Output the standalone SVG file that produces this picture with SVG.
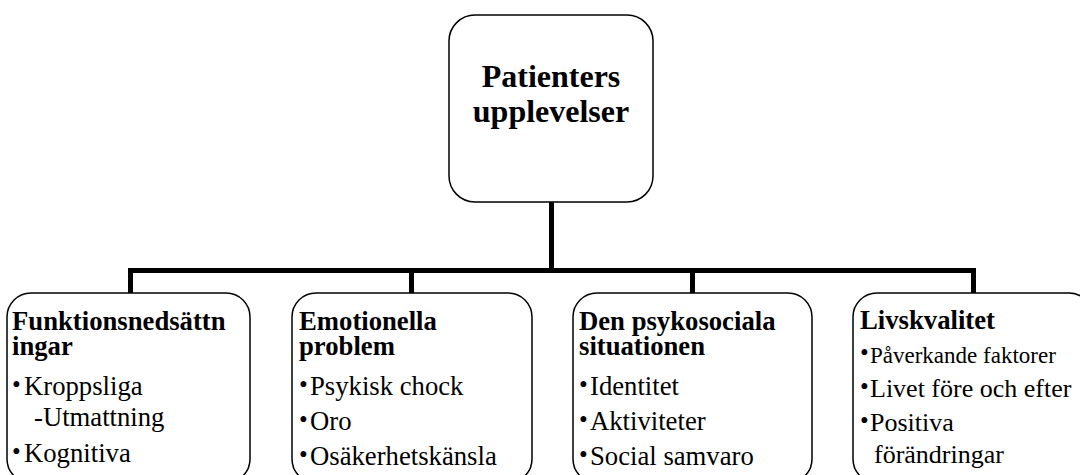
<svg xmlns="http://www.w3.org/2000/svg" width="1080" height="475" viewBox="0 0 1080 475" font-family="'Liberation Serif', 'Times New Roman', serif">
<style>
.box{fill:#fff;stroke:#000;stroke-width:1.5}
.conn{fill:none;stroke:#000;stroke-width:5;stroke-linejoin:miter}
.t{font-family:'Liberation Serif','Times New Roman',serif;fill:#000}
.title{font-size:32px;font-weight:bold;text-anchor:middle}
.head{font-size:26.7px;font-weight:bold}
.body{font-size:26.7px}
.small{font-size:23px}
.mid{font-size:26px}
.bul{font-size:25px}
</style>
<rect width="1080" height="475" fill="#fff"/>
<g id="connectors">
<path class="conn" d="M551.5,202 V270.5"/>
<path class="conn" d="M130.5,293 V270.5 H973.5 V293"/>
<path class="conn" d="M411.5,270.5 V293"/>
<path class="conn" d="M692.5,270.5 V293"/>
</g>
<g id="root">
<rect class="box" x="449" y="15" width="204" height="187" rx="26"/>
<text class="t title" x="551" y="86.5">Patienters</text>
<text class="t title" x="551" y="122">upplevelser</text>
</g>
<g id="n1">
<rect class="box" x="7" y="293" width="243" height="190" rx="24"/>
<text class="t head" x="12" y="330">Funktionsnedsättn</text>
<text class="t head" x="12" y="355">ingar</text>
<text class="t body" x="12" y="395"><tspan class="bul" dy="-2">•</tspan><tspan x="24" dy="2">Kroppsliga</tspan></text>
<text class="t body" x="34" y="426">-Utmattning</text>
<text class="t body" x="12" y="462"><tspan class="bul" dy="-2">•</tspan><tspan x="24" dy="2">Kognitiva</tspan></text>
</g>
<g id="n2">
<rect class="box" x="292" y="293" width="240" height="190" rx="24"/>
<text class="t head" x="299" y="330">Emotionella</text>
<text class="t head" x="299" y="355">problem</text>
<text class="t body" x="299" y="395"><tspan class="bul" dy="-2">•</tspan><tspan x="310" dy="2">Psykisk chock</tspan></text>
<text class="t body" x="299" y="430"><tspan class="bul" dy="-2">•</tspan><tspan x="310" dy="2">Oro</tspan></text>
<text class="t body" x="299" y="465"><tspan class="bul" dy="-2">•</tspan><tspan x="310" dy="2">Osäkerhetskänsla</tspan></text>
</g>
<g id="n3">
<rect class="box" x="573" y="293" width="239" height="190" rx="24"/>
<text class="t head" x="579" y="330">Den psykosociala</text>
<text class="t head" x="579" y="355">situationen</text>
<text class="t body" x="579" y="395"><tspan class="bul" dy="-2">•</tspan><tspan x="590" dy="2">Identitet</tspan></text>
<text class="t body" x="579" y="430"><tspan class="bul" dy="-2">•</tspan><tspan x="590" dy="2">Aktiviteter</tspan></text>
<text class="t body" x="579" y="465"><tspan class="bul" dy="-2">•</tspan><tspan x="590" dy="2">Social samvaro</tspan></text>
</g>
<g id="n4">
<rect class="box" x="853" y="293" width="240" height="190" rx="24"/>
<text class="t head" x="860" y="329">Livskvalitet</text>
<text class="t small" x="860" y="363"><tspan class="bul" dy="-2">•</tspan><tspan x="870" dy="2">Påverkande faktorer</tspan></text>
<text class="t mid" x="860" y="397"><tspan class="bul" dy="-2">•</tspan><tspan x="870" dy="2">Livet före och efter</tspan></text>
<text class="t mid" x="860" y="431"><tspan class="bul" dy="-2">•</tspan><tspan x="870" dy="2">Positiva</tspan></text>
<text class="t mid" x="874" y="463">förändringar</text>
</g>
</svg>
